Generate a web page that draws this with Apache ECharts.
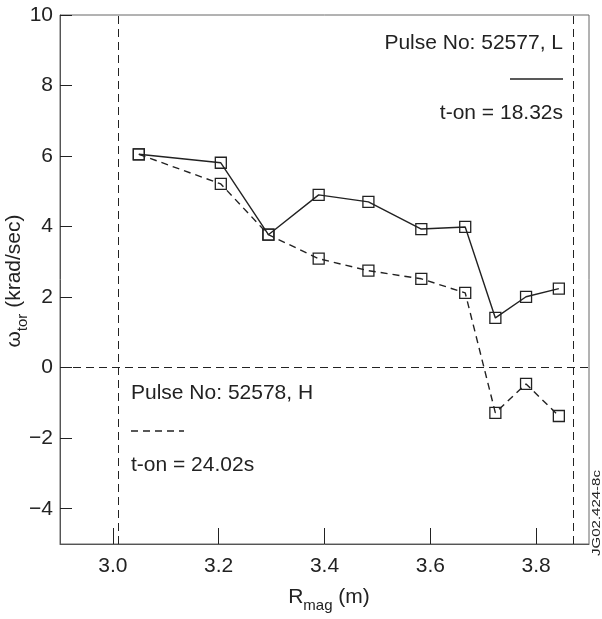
<!DOCTYPE html>
<html>
<head>
<meta charset="utf-8">
<script src="https://cdn.jsdelivr.net/npm/echarts@6/dist/echarts.min.js"></script>
<style>
  html, body { margin: 0; padding: 0; background: #fff; }
  #chart { width: 602px; height: 619px; }
</style>
</head>
<body>
<div id="chart"></div>
<script>
// Major radius positions of the measurement channels (m)
const rMag = [3.049, 3.204, 3.294, 3.389, 3.483, 3.583, 3.666, 3.723, 3.781, 3.843];
// Toroidal rotation (krad/sec), pulse 52577 (L-mode), t-on = 18.32 s
const pulse52577 = [6.05, 5.81, 3.77, 4.90, 4.70, 3.93, 3.99, 1.41, 2.01, 2.24];
// Toroidal rotation (krad/sec), pulse 52578 (H-mode), t-on = 24.02 s
const pulse52578 = [6.05, 5.21, 3.77, 3.09, 2.75, 2.52, 2.12, -1.28, -0.46, -1.37];

// Axis ticks
const xTicks = [3.0, 3.2, 3.4, 3.6, 3.8];
const yTicks = [-4, -2, 0, 2, 4, 6, 8, 10];

// Reference lines: plasma boundaries (R) and zero rotation
const boundaryR = [3.01, 3.87];
const zeroLine = [0];

const FONT = '"Liberation Sans", Arial, Helvetica, sans-serif';
const INK = '#222';

const toPairs = (xs, ys) => xs.map((x, i) => [x, ys[i]]);
const fmtY = v => (v < 0 ? '\u2212' + Math.abs(v) : String(v));

const chart = echarts.init(document.getElementById('chart'), null, { renderer: 'canvas' });

const dashedRef = { type: [8, 5], color: INK, width: 1 };

chart.setOption({
  animation: false,
  backgroundColor: '#fff',
  grid: {
    left: 60, right: 13, top: 15, bottom: 75,
    show: true, borderColor: '#666', borderWidth: 1
  },
  xAxis: {
    type: 'value', min: 2.9, max: 3.9,
    axisLine: { show: true, onZero: false, lineStyle: { color: '#555', width: 1 } },
    axisTick: { show: true, inside: true, length: 16, customValues: xTicks, lineStyle: { color: INK, width: 1 } },
    axisLabel: {
      customValues: xTicks, margin: 12,
      fontFamily: FONT, fontSize: 21, color: INK,
      formatter: v => v.toFixed(1)
    },
    splitLine: { show: false }
  },
  yAxis: {
    type: 'value', min: -5, max: 10,
    axisLine: { show: true, onZero: false, lineStyle: { color: '#555', width: 1 } },
    axisTick: { show: true, inside: true, length: 12, customValues: yTicks, lineStyle: { color: INK, width: 1 } },
    axisLabel: {
      customValues: yTicks, margin: 7,
      fontFamily: FONT, fontSize: 21, color: INK,
      formatter: fmtY
    },
    splitLine: { show: false }
  },
  series: [
    {
      name: 'Pulse No: 52577, L',
      type: 'line',
      data: toPairs(rMag, pulse52577),
      symbol: 'rect', symbolSize: 11,
      itemStyle: { color: 'rgba(255,255,255,0)', borderColor: INK, borderWidth: 1.3 },
      lineStyle: { color: INK, width: 1.4, type: 'solid' },
      z: 3,
      markLine: {
        silent: true, symbol: 'none',
        label: { show: false },
        lineStyle: dashedRef,
        data: boundaryR.map(r => ({ xAxis: r })).concat(zeroLine.map(v => ({ yAxis: v })))
      }
    },
    {
      name: 'Pulse No: 52578, H',
      type: 'line',
      data: toPairs(rMag, pulse52578),
      symbol: 'rect', symbolSize: 11,
      itemStyle: { color: 'rgba(255,255,255,0)', borderColor: INK, borderWidth: 1.3 },
      lineStyle: { color: INK, width: 1.4, type: [7, 5] },
      z: 3
    }
  ],
  graphic: [
    // Legend for pulse 52577 (upper right)
    { type: 'text', right: 39, top: 33,
      style: { text: 'Pulse No: 52577, L', fontFamily: FONT, fontSize: 21, fill: INK } },
    { type: 'line', shape: { x1: 510, y1: 79, x2: 563, y2: 79 },
      style: { stroke: INK, lineWidth: 1.4 } },
    { type: 'text', right: 39, top: 103,
      style: { text: 't-on = 18.32s', fontFamily: FONT, fontSize: 21, fill: INK } },
    // Legend for pulse 52578 (lower left)
    { type: 'text', left: 131, top: 383,
      style: { text: 'Pulse No: 52578, H', fontFamily: FONT, fontSize: 21, fill: INK } },
    { type: 'line', shape: { x1: 131, y1: 431, x2: 184, y2: 431 },
      style: { stroke: INK, lineWidth: 1.4, lineDash: [7, 5] } },
    { type: 'text', left: 131, top: 455,
      style: { text: 't-on = 24.02s', fontFamily: FONT, fontSize: 21, fill: INK } },
    // Axis titles with subscripts
    { type: 'text', x: 329, y: 600,
      style: {
        text: '{a|R}{s|mag}{a| (m)}', align: 'center', verticalAlign: 'middle',
        rich: {
          a: { fontFamily: FONT, fontSize: 21, lineHeight: 26, fill: INK, verticalAlign: 'top' },
          s: { fontFamily: FONT, fontSize: 15, lineHeight: 16, fill: INK, verticalAlign: 'bottom' }
        }
      } },
    { type: 'text', x: 17, y: 281, rotation: Math.PI / 2,
      style: {
        text: '{a|\u03c9}{s|tor}{a| (krad/sec)}', align: 'center', verticalAlign: 'middle',
        rich: {
          a: { fontFamily: FONT, fontSize: 21, lineHeight: 26, fill: INK, verticalAlign: 'top' },
          s: { fontFamily: FONT, fontSize: 15, lineHeight: 16, fill: INK, verticalAlign: 'bottom' }
        }
      } },
    // Figure reference tag
    { type: 'text', x: 597, y: 513, rotation: Math.PI / 2, scaleX: 1.5,
      style: { text: 'JG02.424-8c', align: 'center', verticalAlign: 'middle',
               fontFamily: FONT, fontSize: 10, fill: INK } }
  ]
});
</script>
</body>
</html>
